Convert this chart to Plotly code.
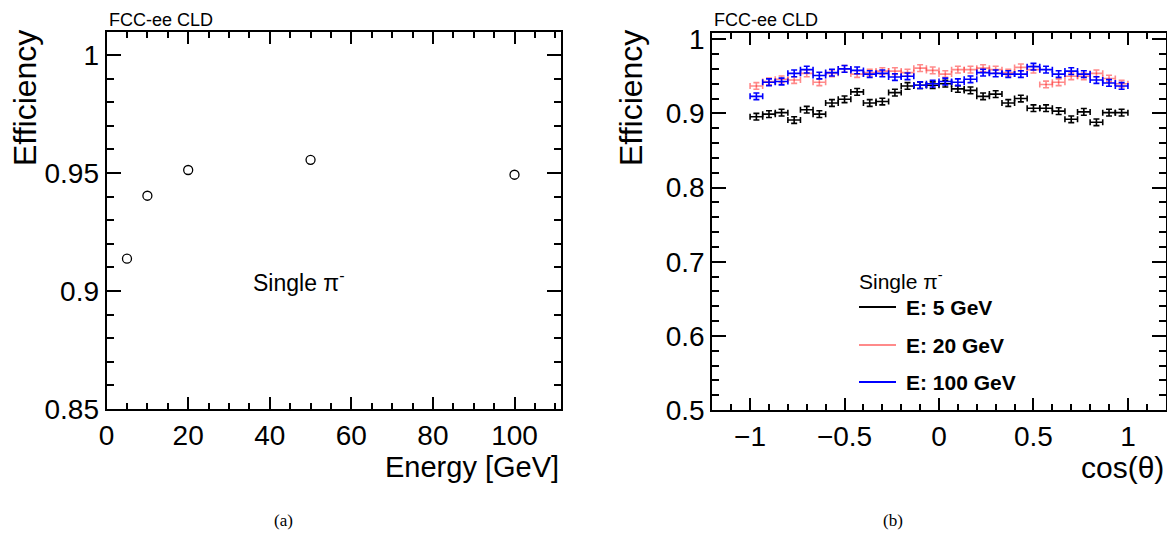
import numpy as np
import plotly.graph_objects as go

W, H = 1175, 548
OFF = 8  # page body margin in the browser

# ---- data: panel (a)
energy = [5, 10, 20, 50, 100]
eff_energy = [0.9137, 0.9404, 0.9513, 0.9556, 0.9493]

# ---- data: panel (b)
n_bins = 30
cos_edges = np.linspace(-1, 1, n_bins + 1)
cos_centers = 0.5 * (cos_edges[:-1] + cos_edges[1:])
cos_halfwidth = 0.5 * (cos_edges[1] - cos_edges[0])

eff_5 = [0.8955, 0.899, 0.901, 0.891, 0.905, 0.899, 0.914, 0.919, 0.929, 0.914,
         0.916, 0.928, 0.937, 0.938, 0.938, 0.940, 0.933, 0.931, 0.923, 0.926,
         0.914, 0.920, 0.907, 0.907, 0.903, 0.892, 0.902, 0.888, 0.901, 0.901]
eff_20 = [0.937, 0.943, 0.946, 0.945, 0.954, 0.942, 0.954, 0.960, 0.953, 0.955,
          0.957, 0.957, 0.955, 0.961, 0.958, 0.953, 0.959, 0.959, 0.961, 0.959,
          0.955, 0.962, 0.959, 0.939, 0.942, 0.950, 0.950, 0.954, 0.947, 0.940]
eff_100 = [0.923, 0.942, 0.943, 0.954, 0.959, 0.951, 0.955, 0.960, 0.958, 0.953,
           0.954, 0.949, 0.950, 0.938, 0.940, 0.943, 0.942, 0.946, 0.955, 0.954,
           0.953, 0.953, 0.963, 0.959, 0.953, 0.957, 0.953, 0.945, 0.941, 0.937]
err_eff = 0.0045

series = [
    ("E: 5 GeV", eff_5, "black"),
    ("E: 20 GeV", eff_20, "rgba(255,60,60,0.6)"),
    ("E: 100 GeV", eff_100, "rgb(0,0,255)"),
]

FONT = "Liberation Sans, Arial, Helvetica, sans-serif"


def px(x):
    return (x - OFF) / W


def py(y):
    return 1 - (y - OFF) / H


# plot areas in screen pixels
A = dict(x0=106.6, x1=561, y0=32, y1=409)
B = dict(x0=712.3, x1=1165.7, y0=33.3, y1=410)

fig = go.Figure()

fig.add_trace(go.Scatter(
    x=energy, y=eff_energy, mode="markers",
    marker=dict(symbol="circle-open", size=9, color="black", line=dict(width=1.3, color="black")),
    xaxis="x", yaxis="y", showlegend=False))

for name, vals, col in series:
    fig.add_trace(go.Scatter(
        x=cos_centers, y=vals, mode="markers", name=name,
        marker=dict(size=1, color=col),
        error_x=dict(type="constant", value=cos_halfwidth, width=3, thickness=1.6, color=col),
        error_y=dict(type="constant", value=err_eff, width=3, thickness=1.6, color=col),
        xaxis="x2", yaxis="y2", showlegend=False))

axis_common = dict(
    showline=True, linecolor="black", linewidth=2, mirror="ticks",
    ticks="inside", tickcolor="black", tickwidth=1.5,
    showgrid=False, zeroline=False, automargin=False,
    tickfont=dict(family=FONT, size=28, color="black"),
)

fig.update_layout(
    width=W, height=H, margin=dict(l=0, r=0, t=0, b=0, pad=0, autoexpand=False),
    paper_bgcolor="white", plot_bgcolor="white", showlegend=False,
    xaxis=dict(domain=[px(A["x0"]), px(A["x1"])], range=[0, 111.4],
               dtick=20, tick0=0, ticklen=12,
               minor=dict(dtick=5, ticklen=6, ticks="inside", tickcolor="black", tickwidth=1.5, showgrid=False),
               anchor="y", **axis_common),
    yaxis=dict(domain=[py(A["y1"]), py(A["y0"])], range=[0.85, 1.0098],
               dtick=0.05, tick0=0.85, ticklen=14,
               minor=dict(dtick=0.01, ticklen=7, ticks="inside", tickcolor="black", tickwidth=1.5, showgrid=False),
               anchor="x", **axis_common),
    xaxis2=dict(domain=[px(B["x0"]), px(B["x1"])], range=[-1.2, 1.2],
                dtick=0.5, tick0=0, ticklen=12,
                minor=dict(dtick=0.1, ticklen=6, ticks="inside", tickcolor="black", tickwidth=1.5, showgrid=False),
                anchor="y2", **axis_common),
    yaxis2=dict(domain=[py(B["y1"]), py(B["y0"])], range=[0.5, 1.008],
                dtick=0.1, tick0=0.5, ticklen=14,
                minor=dict(dtick=0.02, ticklen=7, ticks="inside", tickcolor="black", tickwidth=1.5, showgrid=False),
                anchor="x2", **axis_common),
)

ann = []
# axis titles
ann.append(dict(text="Efficiency", x=px(25), y=py(28), xref="paper", yref="paper",
                textangle=-90, xanchor="center", yanchor="top", showarrow=False,
                font=dict(family=FONT, size=32, color="black")))
ann.append(dict(text="Efficiency", x=px(631), y=py(28), xref="paper", yref="paper",
                textangle=-90, xanchor="center", yanchor="top", showarrow=False,
                font=dict(family=FONT, size=32, color="black")))
ann.append(dict(text="Energy [GeV]", x=px(561), y=py(449), xref="paper", yref="paper",
                xanchor="right", yanchor="top", showarrow=False,
                font=dict(family=FONT, size=29, color="black")))
ann.append(dict(text="cos(θ)", x=px(1166), y=py(449), xref="paper", yref="paper",
                xanchor="right", yanchor="top", showarrow=False,
                font=dict(family=FONT, size=30, color="black")))
# experiment labels
for x0 in (A["x0"], B["x0"]):
    ann.append(dict(text="FCC-ee CLD", x=px(x0), y=py(8), xref="paper", yref="paper",
                    xanchor="left", yanchor="top", showarrow=False,
                    font=dict(family=FONT, size=18, color="black")))
# single pi text in (a)
ann.append(dict(text="Single π<sup>-</sup>", x=px(251), y=py(281), xref="paper", yref="paper",
                xanchor="left", yanchor="middle", showarrow=False,
                font=dict(family=FONT, size=23, color="black")))
# legend in (b)
ann.append(dict(text="Single π<sup>-</sup>", x=px(857), y=py(280), xref="paper", yref="paper",
                xanchor="left", yanchor="middle", showarrow=False,
                font=dict(family=FONT, size=21, color="black")))
shapes = []
rows = [307, 345, 382]
for (name, vals, col), yr in zip(series, rows):
    ann.append(dict(text="<b>%s</b>" % name, x=px(904), y=py(yr), xref="paper", yref="paper",
                    xanchor="left", yanchor="middle", showarrow=False,
                    font=dict(family=FONT, size=21, color="black")))
    shapes.append(dict(type="line", xref="paper", yref="paper",
                       x0=px(859), x1=px(896), y0=py(yr), y1=py(yr),
                       line=dict(color=col, width=2)))
# sub-figure captions
ann.append(dict(text="(a)", x=px(283), y=py(520), xref="paper", yref="paper",
                xanchor="center", yanchor="middle", showarrow=False,
                font=dict(family="Liberation Serif, Times New Roman, serif", size=17, color="black")))
ann.append(dict(text="(b)", x=px(893), y=py(520), xref="paper", yref="paper",
                xanchor="center", yanchor="middle", showarrow=False,
                font=dict(family="Liberation Serif, Times New Roman, serif", size=17, color="black")))

fig.update_layout(annotations=ann, shapes=shapes)
fig.write_html("out.html")
